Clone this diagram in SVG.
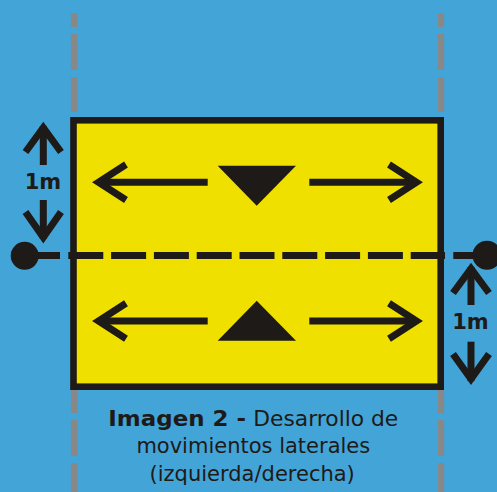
<svg xmlns="http://www.w3.org/2000/svg" width="497" height="492" viewBox="0 0 497 492">
<defs>
<style>
.guide{stroke:#888888;stroke-width:6.3;fill:none}
.ink{stroke:#1e1a17;stroke-width:7;fill:none;stroke-linejoin:miter;stroke-linecap:butt}
.fill{fill:#1e1a17}
.lbl{font-family:"DejaVu Sans",Verdana,sans-serif;font-size:21px;fill:#1e1a17}
.b{font-weight:bold}
</style>
</defs>
<rect x="0" y="0" width="497" height="492" fill="#43a4d7"/>
<g id="guides">
<path class="guide" d="M74 13V27M74 34V70M74 77V112M74 390V413M74 420V456M74 463V492"/>
<path class="guide" d="M441 13V27M441 34V70M441 77V112M441 390V413M441 420V456M441 463V492"/>
</g>
<g id="field">
<rect x="73.5" y="120.3" width="367.2" height="266.4" fill="#f0e000" stroke="#1e1a17" stroke-width="6.6"/>
</g>
<g id="connectors">
<line class="ink" x1="24.7" y1="255.5" x2="60" y2="255.5" stroke-width="6.6"/>
<line class="ink" x1="68.3" y1="255.5" x2="445" y2="255.5" stroke-width="6.6" stroke-dasharray="35 7.8"/>
<line class="ink" x1="453.3" y1="255.5" x2="487" y2="255.5" stroke-width="6.6"/>
</g>
<g id="point-left"><circle class="fill" cx="24.7" cy="255.8" r="14"/></g>
<g id="point-right"><circle class="fill" cx="487" cy="255.3" r="14.5"/></g>
<g id="measure-left">
<line class="ink" x1="43.3" y1="126" x2="43.3" y2="165"/>
<polyline class="ink" points="25.5,152 43.3,127.6 61,152"/>
<text class="lbl b" x="43" y="189.3" text-anchor="middle">1m</text>
<line class="ink" x1="43.3" y1="200" x2="43.3" y2="239"/>
<polyline class="ink" points="25.5,212 43.3,237.4 61,212"/>
</g>
<g id="measure-right">
<line class="ink" x1="471" y1="267" x2="471" y2="305"/>
<polyline class="ink" points="453,293 471,268.6 489,293"/>
<text class="lbl b" x="470.5" y="329.3" text-anchor="middle">1m</text>
<line class="ink" x1="471" y1="341.7" x2="471" y2="381"/>
<polyline class="ink" points="453,354 471,379.1 489,354"/>
</g>
<g id="row-top">
<line class="ink" x1="100" y1="182.3" x2="207.7" y2="182.3"/>
<polyline class="ink" points="126,164.5 98.5,182.3 126,200"/>
<polygon class="fill" points="217.7,165.7 296,165.7 256.7,205.7"/>
<line class="ink" x1="309.3" y1="182.3" x2="415" y2="182.3"/>
<polyline class="ink" points="389,164.5 416.5,182.3 389,200"/>
</g>
<g id="row-bottom">
<line class="ink" x1="100" y1="321" x2="207.7" y2="321"/>
<polyline class="ink" points="126,303.2 98.5,321 126,338.7"/>
<polygon class="fill" points="256.7,300.7 296,340.7 217.7,340.7"/>
<line class="ink" x1="309.3" y1="321" x2="415" y2="321"/>
<polyline class="ink" points="389,303.2 416.5,321 389,338.7"/>
</g>
<g id="caption">
<text class="lbl b" x="108.3" y="426" textLength="137.7" lengthAdjust="spacingAndGlyphs">Imagen 2 -</text>
<text class="lbl" x="253.3" y="426" textLength="145" lengthAdjust="spacingAndGlyphs">Desarrollo de</text>
<text class="lbl" x="253.3" y="453.3" text-anchor="middle">movimientos laterales</text>
<text class="lbl" x="252.2" y="480.7" text-anchor="middle">(izquierda/derecha)</text>
</g>
</svg>
